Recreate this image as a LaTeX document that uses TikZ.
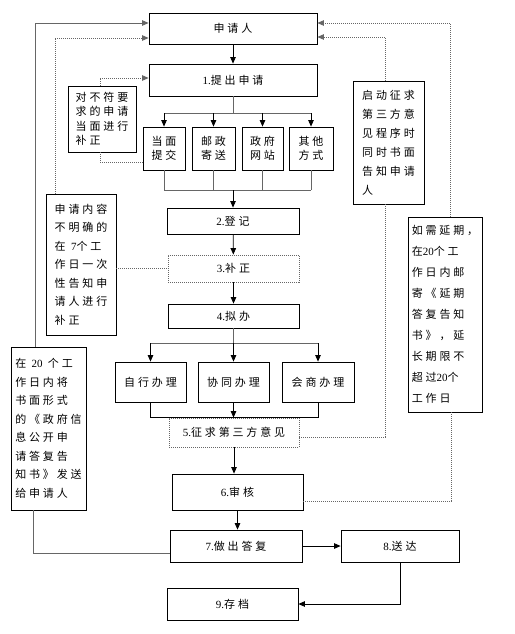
\documentclass[tikz,border=0pt]{standalone}
\usepackage{fontspec}
\setmainfont{Noto Sans CJK SC}[LetterSpace=26]
\newfontfamily\latfont{Liberation Serif}
\newcommand\numtxt[1]{{\latfont #1}}
\usetikzlibrary{arrows.meta}
\begin{document}
\begin{tikzpicture}[x=1pt,y=-1pt,
 box/.style={draw, line width=0.8pt, inner sep=0pt, align=center, font=\fontsize{11}{13.5}\selectfont},
 dbox/.style={box, draw=gray!80!black, dash pattern=on 1pt off 1pt},
 side/.style={draw, line width=0.8pt, inner sep=0pt, align=left, font=\fontsize{11}{18.5}\selectfont},
 arr/.style={-{Triangle[length=6.5pt,width=5.5pt]}, line width=0.8pt},
 ln/.style={line width=0.8pt},
 gln/.style={line width=1pt, draw=gray!80!black},
 dot/.style={line width=0.8pt, draw=gray!80!black, dash pattern=on 1pt off 1pt}]
\useasboundingbox (0,0) rectangle (514,634);
\fill[white] (0,0) rectangle (514,634);
% main boxes
\node[box, minimum width=168, minimum height=31] (app) at (233,28.5) {申请人};
\node[box, minimum width=168, minimum height=32] (s1) at (233,80) {\numtxt{1.}提出申请};
\node[box, minimum width=42, minimum height=43] (b1) at (164,148.5) {当面\\提交};
\node[box, minimum width=43, minimum height=43] (b2) at (213.5,148.5) {邮政\\寄送};
\node[box, minimum width=41, minimum height=43] (b3) at (262.5,148.5) {政府\\网站};
\node[box, minimum width=44, minimum height=43] (b4) at (311,148.5) {其他\\方式};
\node[box, minimum width=132, minimum height=26] (s2) at (233,221) {\numtxt{2.}登记};
\node[dbox, minimum width=131, minimum height=27] (s3) at (233.5,268.5) {\numtxt{3.}补正};
\node[box, minimum width=131, minimum height=24] (s4) at (233.5,316) {\numtxt{4.}拟办};
\node[box, minimum width=71, minimum height=40] (c1) at (150.5,382) {自行办理};
\node[box, minimum width=71, minimum height=40] (c2) at (233.5,382) {协同办理};
\node[box, minimum width=72, minimum height=40] (c3) at (318,382) {会商办理};
\node[dbox, minimum width=130, minimum height=29] (s5) at (234,432.5) {\numtxt{5.}征求第三方意见};
\node[box, minimum width=131, minimum height=36] (s6) at (237.5,492) {\numtxt{6.}审核};
\node[box, minimum width=132, minimum height=32] (s7) at (236,546) {\numtxt{7.}做出答复};
\node[box, minimum width=118, minimum height=32] (s8) at (400,546) {\numtxt{8.}送达};
\node[box, minimum width=131, minimum height=32] (s9) at (232.5,604) {\numtxt{9.}存档};
% side boxes
\node[side, minimum width=68, minimum height=66, font=\fontsize{11}{14.5}\selectfont] (n1) at (102,119)
 {对不符要\\求的申请\\当面进行\\补正};
\node[side, minimum width=70, minimum height=141] (n2) at (81,264.5)
 {申请内容\\不明确的\\在 \numtxt{7}个工\\作日一次\\性告知申\\请人进行\\补正};
\node[side, minimum width=75, minimum height=163] (n3) at (48.5,428.5)
 {在 \numtxt{20} 个工\\作日内将\\书面形式\\的《政府信\\息公开申\\请答复告\\知书》发送\\给申请人};
\node[side, minimum width=71, minimum height=123, font=\fontsize{11}{19}\selectfont] (n4) at (388.5,142.5)
 {启动征求\\第三方意\\见程序时\\同时书面\\告知申请\\人};
\node[side, minimum width=74, minimum height=195, font=\fontsize{11}{21}\selectfont] (n5) at (445,314.5)
 {如需延期，\\在\numtxt{20}个工\\作日内邮\\寄《延期\\答复告知\\书》，延\\长期限不\\超过\numtxt{20}个\\工作日};
% connectors
\draw[arr] (app) -- (s1);
\coordinate (j1) at (233,113);
\draw[gln] (s1.south) -- (j1);
\draw[gln] (j1 -| b1) -- (j1 -| b4);
\foreach \b in {b1,b2,b3,b4} \draw[arr] (j1 -| \b) -- (\b.north);
\coordinate (j2) at (233,190);
\foreach \b in {b1,b2,b3,b4} \draw[gln] (\b.south) -- (j2 -| \b);
\draw[gln] (j2 -| b1) -- (j2 -| b4);
\draw[arr] (j2) -- (s2.north);
\draw[arr] (s2) -- (s3);
\draw[arr] (s3) -- (s4);
\coordinate (j3) at (233.5,343);
\draw[gln] (s4.south) -- (j3);
\draw[gln] (j3 -| c1) -- (j3 -| c3);
\foreach \c in {c1,c2,c3} \draw[arr] (j3 -| \c) -- (\c.north);
\draw[ln] (c1.south) -- (c1.south |- s5.north) -- (c3.south |- s5.north) -- (c3.south);
\draw[arr] (c2) -- (c2.south |- s5.north);
\draw[arr] (s5) -- (s5.south |- s6.north);
\draw[arr] (s6.south) -- (s6.south |- s7.north);
\draw[arr] (s7) -- (s8);
\draw[arr] (s8.south) |- (s9.east);
% left side lines
\draw[gln, arr] ([xshift=-13.5pt]n3.north) |- ([yshift=5.5pt]app.west);
\draw[gln] ([xshift=-15.5pt]n3.south) |- ([yshift=-7pt]s7.west);
\draw[dot, arr] ([xshift=-26pt]n2.north) |- ([yshift=-9.5pt]app.west);
\draw[dot] (n2.east |- s3.west) -- (s3.west);
\draw[dot, arr] ([xshift=-2pt]n1.north) |- ([yshift=2pt]s1.west);
\draw[dot] ([xshift=-2pt]n1.south) |- ([yshift=-13.5pt]b1.west);
% right side lines
\draw[dot, arr] ([xshift=-3.5pt]n4.north) |- ([yshift=-8.5pt]app.east);
\draw[dot] ([xshift=-3.5pt]n4.south) |- ([yshift=-4.5pt]s5.east);
\draw[dot, arr] ([xshift=5pt]n5.north) |- ([yshift=5.5pt]app.east);
\draw[dot] ([xshift=6pt]n5.south) |- ([yshift=-9pt]s6.east);
\end{tikzpicture}
\end{document}
